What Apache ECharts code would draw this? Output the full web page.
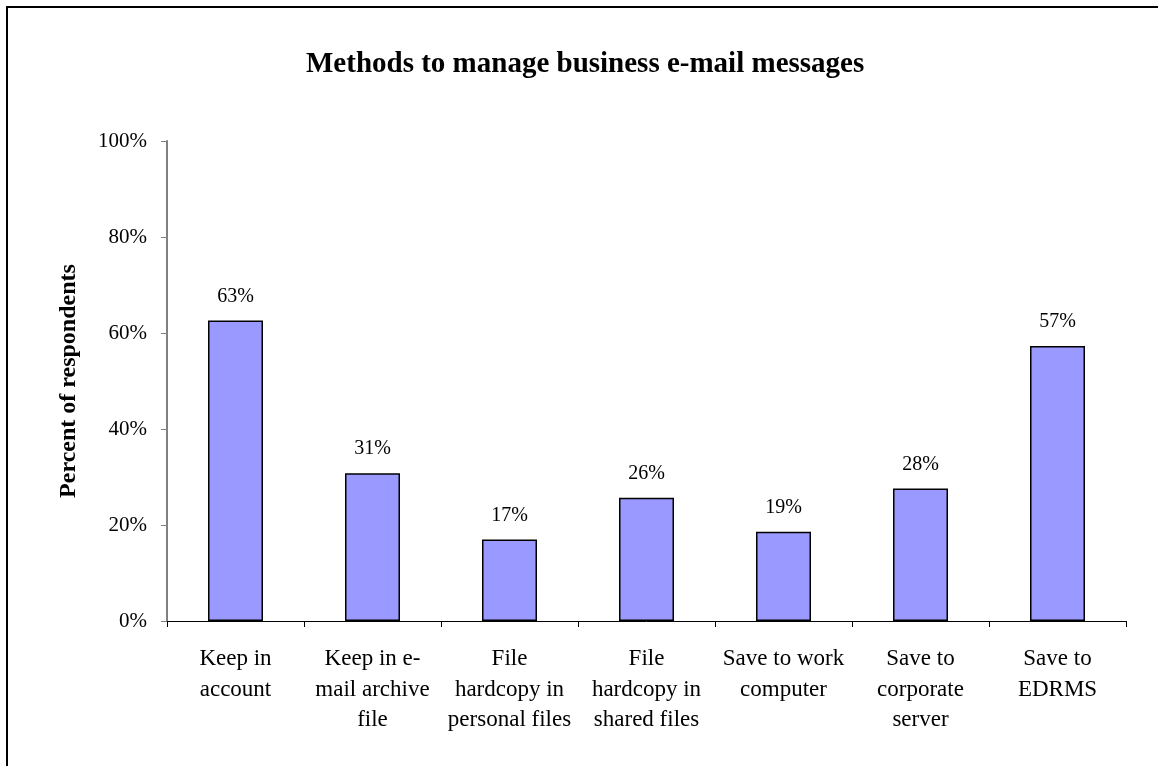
<!DOCTYPE html>
<html>
<head>
<meta charset="utf-8">
<script src="https://cdn.jsdelivr.net/npm/echarts@6/dist/echarts.min.js"></script>
<style>
html,body{margin:0;padding:0;background:#fff;}
#chart{width:1158px;height:766px;}
</style>
</head>
<body>
<div id="chart"></div>
<script>
var categories = [
  "Keep in\naccount",
  "Keep in e-\nmail archive\nfile",
  "File\nhardcopy in\npersonal files",
  "File\nhardcopy in\nshared files",
  "Save to work\ncomputer",
  "Save to\ncorporate\nserver",
  "Save to\nEDRMS"
];
var values = [62.6, 30.8, 17.0, 25.7, 18.6, 27.6, 57.3];
var titleText = "Methods to manage business e-mail messages";
var yAxisName = "Percent of respondents";

var FONT = "'Liberation Serif', 'Times New Roman', serif";
var chart = echarts.init(document.getElementById('chart'));
chart.setOption({
  backgroundColor: '#ffffff',
  animation: false,
  title: {
    text: titleText,
    left: 301,
    top: 45,
    textStyle: {fontFamily: FONT, fontSize: 29, fontWeight: 'bold', color: '#000'}
  },
  graphic: [{
    type: 'rect',
    shape: {x: 7, y: 7, width: 1200, height: 800},
    style: {fill: 'none', stroke: '#000', lineWidth: 2},
    silent: true
  }],
  grid: {left: 167, right: 32, top: 141, bottom: 145, containLabel: false},
  xAxis: {
    type: 'category',
    data: categories,
    axisLine: {lineStyle: {color: '#000', width: 1}},
    axisTick: {show: true, length: 6, lineStyle: {color: '#000'}},
    axisLabel: {
      interval: 0, fontFamily: FONT, fontSize: 23, color: '#000',
      lineHeight: 30.5, margin: 23
    }
  },
  yAxis: {
    type: 'value',
    min: 0, max: 100, interval: 20,
    name: yAxisName,
    nameLocation: 'middle',
    nameGap: 86,
    nameTextStyle: {fontFamily: FONT, fontSize: 24, fontWeight: 'bold', color: '#000'},
    axisLine: {show: true, lineStyle: {color: '#808080', width: 2}},
    axisTick: {show: true, length: 6, lineStyle: {color: '#808080', width: 1}},
    splitLine: {show: false},
    axisLabel: {
      formatter: '{value}%', fontFamily: FONT, fontSize: 21, color: '#000', margin: 20
    }
  },
  series: [{
    type: 'bar',
    data: values,
    barWidth: 55,
    itemStyle: {color: '#9999FF', borderColor: '#000', borderWidth: 1.5},
    label: {
      show: true, position: 'top', distance: 14,
      fontFamily: FONT, fontSize: 20, color: '#000',
      formatter: function (p) { return Math.round(p.value) + '%'; }
    }
  }]
});
</script>
</body>
</html>
